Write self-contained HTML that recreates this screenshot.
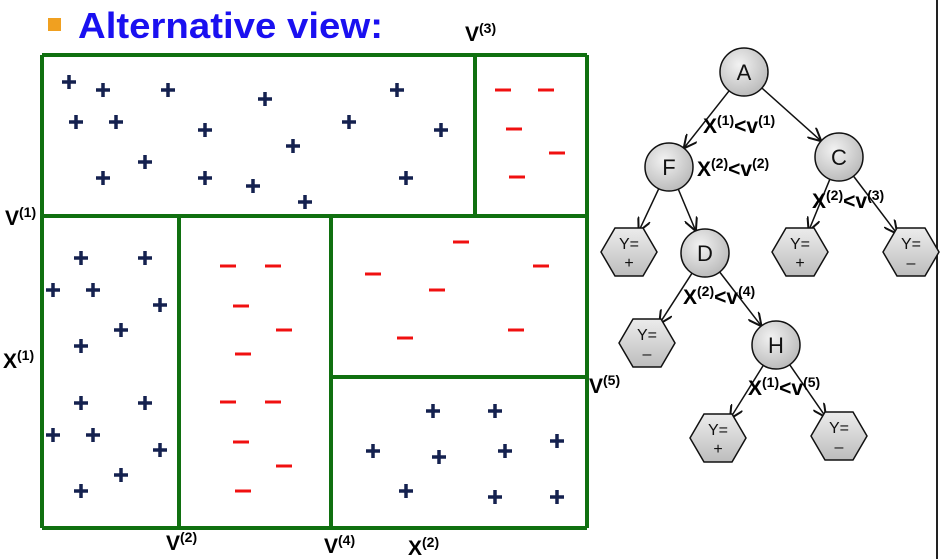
<!DOCTYPE html>
<html><head><meta charset="utf-8"><style>
html,body{margin:0;padding:0;background:#fff;width:940px;height:559px;overflow:hidden}
svg text{font-family:"Liberation Sans",Arial,sans-serif}
</style></head><body>
<svg id="s" width="940" height="559" viewBox="0 0 940 559">
<defs>
<marker id="arr" viewBox="0 0 10 10" refX="9" refY="5" markerWidth="9" markerHeight="9" orient="auto"><path d="M0,0 L10,5 L0,10" fill="none" stroke="#111" stroke-width="1.5"/></marker>
<radialGradient id="ng" cx="40%" cy="35%" r="70%"><stop offset="0" stop-color="#f2f2f2"/><stop offset="1" stop-color="#b8b8b8"/></radialGradient>
<linearGradient id="hg" x1="0" y1="0" x2="0" y2="1"><stop offset="0" stop-color="#ececec"/><stop offset="1" stop-color="#bdbdbd"/></linearGradient>
</defs>
<rect x="48" y="18" width="13" height="13" fill="#f0a020"/>
<text x="78" y="38" font-size="36" font-weight="bold" fill="#1a10f0" textLength="305" lengthAdjust="spacingAndGlyphs">Alternative view:</text>
<line x1="937" y1="0" x2="937" y2="559" stroke="#222" stroke-width="2"/>
<g id="part" fill="none" stroke="#107010" stroke-width="4"></g>
<g id="pts"></g>
<g font-weight="bold" fill="#000">
<text x="465" y="41" font-size="21">V<tspan font-size="14" dy="-8">(3)</tspan></text>
<text x="5" y="225" font-size="21">V<tspan font-size="14" dy="-8">(1)</tspan></text>
<text x="3" y="368" font-size="21">X<tspan font-size="14" dy="-8">(1)</tspan></text>
<text x="589" y="393" font-size="21">V<tspan font-size="14" dy="-8">(5)</tspan></text>
<text x="166" y="550" font-size="21">V<tspan font-size="14" dy="-8">(2)</tspan></text>
<text x="324" y="553" font-size="21">V<tspan font-size="14" dy="-8">(4)</tspan></text>
<text x="408" y="555" font-size="21">X<tspan font-size="14" dy="-8">(2)</tspan></text>
</g>
<g id="tree"></g>
</svg>
<script>
const NS="http://www.w3.org/2000/svg";
function mk(t,a,p){const e=document.createElementNS(NS,t);for(const k in a)e.setAttribute(k,a[k]);p.appendChild(e);return e;}
const splits=[[42,55,587,55],[587,55,587,528],[587,528,42,528],[42,528,42,55],[42,216,587,216],[475,55,475,216],[179,216,179,528],[331,216,331,528],[331,377,587,377]];
const part=document.getElementById('part');
splits.forEach(s=>{const l=mk('line',{x1:s[0],y1:s[1],x2:s[2],y2:s[3]},part);

});
const plusX=[69,103,168,265,397,76,116,205,349,441,293,145,103,205,253,406,305, 81,145,53,93,160,121,81,81,145,53,93,160,121,81, 433,495,557,373,439,505,406,495,557];
const plusY=[82,90,90,99,90,122,122,130,122,130,146,162,178,178,186,178,202, 258,258,290,290,305,330,346,403,403,435,435,450,475,491, 411,411,441,451,457,451,491,497,497];
const minusX=[503,546,514,557,517, 228,273,241,284,243,228,273,241,284,243, 461,373,541,437,516,405];
const minusY=[90,90,129,153,177, 266,266,306,330,354,402,402,442,466,491, 242,274,266,290,330,338];
const pts=document.getElementById('pts');
plusX.forEach((x,i)=>{const y=plusY[i];const g=mk('g',{stroke:'#14214f','stroke-width':3.5},pts);


mk('line',{x1:x-7,y1:y,x2:x+7,y2:y},g);mk('line',{x1:x,y1:y-7,x2:x,y2:y+7},g);});
minusX.forEach((x,i)=>{const l=mk('line',{x1:x-8,y1:minusY[i],x2:x+8,y2:minusY[i],stroke:'#f01010','stroke-width':3},pts);

});
const tree=document.getElementById('tree');
const nodes={A:[744,72],F:[669,167],C:[839,157],D:[705,253],H:[776,345]};
const leaves={L1:[629,252,'+'],L2:[800,252,'+'],L3:[911,252,'–'],L4:[647,343,'–'],L5:[718,438,'+'],L6:[839,436,'–']};
const edges=[['A','F'],['A','C'],['F','L1'],['F','D'],['C','L2'],['C','L3'],['D','L4'],['D','H'],['H','L5'],['H','L6']];
function pos(k){return nodes[k]||leaves[k];}
edges.forEach(([a,b])=>{const p=pos(a),q=pos(b);const dx=q[0]-p[0],dy=q[1]-p[1],d=Math.hypot(dx,dy);
const r2=nodes[b]?25:24;const l=mk('line',{x1:p[0]+dx/d*24,y1:p[1]+dy/d*24,x2:q[0]-dx/d*r2,y2:q[1]-dy/d*r2,stroke:'#111','stroke-width':1.5,'marker-end':'url(#arr)'},tree);

});
for(const k in nodes){const [x,y]=nodes[k];const g=mk('g',{},tree);


mk('circle',{cx:x,cy:y,r:24,fill:'url(#ng)',stroke:'#111','stroke-width':1.5},g);
const t=mk('text',{x:x,y:y+8,'font-size':22,'text-anchor':'middle',fill:'#111'},g);t.textContent=k;}
for(const k in leaves){const [x,y,v]=leaves[k];const g=mk('g',{},tree);


mk('polygon',{points:`${x-28},${y} ${x-14},${y-24} ${x+14},${y-24} ${x+28},${y} ${x+14},${y+24} ${x-14},${y+24}`,fill:'url(#hg)',stroke:'#111','stroke-width':1.5},g);
const t1=mk('text',{x:x,y:y-3,'font-size':16,'text-anchor':'middle',fill:'#111'},g);t1.textContent='Y=';
const t2=mk('text',{x:x,y:y+16,'font-size':16,'text-anchor':'middle',fill:'#111'},g);t2.textContent=v;}
const elabs=[[703,133,'1','1'],[697,176,'2','2'],[812,208,'2','3'],[683,304,'2','4'],[748,395,'1','5']];
elabs.forEach(e=>{const t=mk('text',{x:e[0],y:e[1],'font-size':21,'font-weight':'bold',fill:'#000'},tree);


t.innerHTML=`X<tspan font-size="14" dy="-8">(${e[2]})</tspan><tspan dy="8">&lt;v</tspan><tspan font-size="14" dy="-8">(${e[3]})</tspan>`;});
</script>
</body></html>
